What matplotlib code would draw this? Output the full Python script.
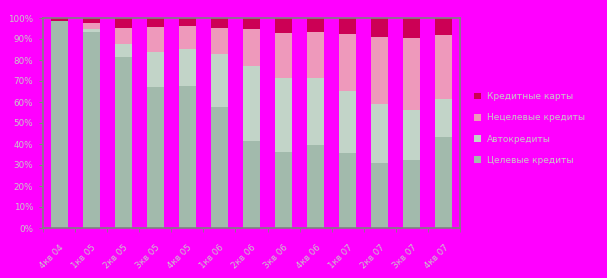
import numpy as np
import matplotlib.pyplot as plt

# quarters
quarters = ['4кв 04', '1кв 05', '2кв 05', '3кв 05', '4кв 05', '1кв 06', '2кв 06',
            '3кв 06', '4кв 06', '1кв 07', '2кв 07', '3кв 07', '4кв 07']

# shares in %, bottom to top
celevye = [98.5, 93.3, 81.4, 67.1, 67.6, 57.6, 41.5, 36.2, 39.5, 35.7, 31.0, 32.4, 43.3]
avto = [0.0, 1.5, 6.2, 16.7, 17.6, 25.3, 35.6, 35.2, 31.9, 29.5, 28.0, 23.8, 18.1]
necelevye = [0.0, 2.8, 7.6, 11.9, 11.0, 12.3, 17.7, 21.5, 21.9, 27.2, 32.0, 34.3, 30.5]
karty = [1.5, 2.4, 4.8, 4.3, 3.8, 4.8, 5.2, 7.1, 6.7, 7.6, 9.0, 9.5, 8.1]

series = [
    ('Целевые кредиты', celevye, '#a2baac'),
    ('Автокредиты', avto, '#c2d4c8'),
    ('Нецелевые кредиты', necelevye, '#ee99bb'),
    ('Кредитные карты', karty, '#cc0055'),
]

bg = '#ff00ff'
txt = '#c8c8c8'
axc = '#808080'

fig = plt.figure(figsize=(6.07, 2.78), dpi=100, facecolor=bg)
ax = fig.add_axes([43/607, 1-228/278, 417/607, 210/278], facecolor=bg)

x = np.arange(len(quarters))
bottom = np.zeros(len(quarters))
handles = []
for name, vals, col in series:
    b = ax.bar(x, vals, width=0.53, bottom=bottom, color=col, label=name, linewidth=0)
    handles.append(b)
    bottom += np.array(vals)

ax.set_xlim(-0.5, len(quarters) - 0.5)
ax.set_ylim(0, 100)
ax.set_yticks(np.arange(0, 101, 10))
ax.set_yticklabels([f'{v}%' for v in range(0, 101, 10)], fontsize=6.3, color=txt)

ax.set_xticks(x)
ax.set_xticklabels(quarters, rotation=45, ha='right', rotation_mode='anchor',
                   fontsize=6.3, color=txt)
ax.tick_params(axis='x', which='major', length=0, pad=11)
ax.set_xticks(np.arange(-0.5, len(quarters), 1), minor=True)
ax.tick_params(axis='x', which='minor', length=3, color=axc, direction='out')
ax.tick_params(axis='y', length=3, color=axc, pad=4)

for s in ax.spines.values():
    s.set_color(axc)
    s.set_linewidth(1.2)

fig.legend(handles[::-1], [s[0] for s in series][::-1], loc='center left',
           bbox_to_anchor=(466/607, 1-128.5/278), frameon=False, fontsize=6.5,
           labelcolor=txt, handlelength=0.75, handleheight=0.75, labelspacing=1.35,
           handletextpad=0.7)

fig.savefig('out.png', dpi=100, facecolor=bg)
